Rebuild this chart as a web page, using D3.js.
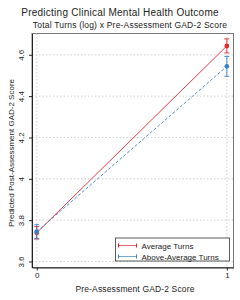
<!DOCTYPE html>
<html>
<head>
<meta charset="utf-8">
<script src="https://cdn.jsdelivr.net/npm/d3@7"></script>
<style>
	body { margin: 0; background: #fff; }
	svg { display: block; font-family: "Liberation Sans", Arial, sans-serif; }
	.grid line { stroke: #d0d0d0; stroke-dasharray: 1.5, 2; }
	.axis path, .axis line { stroke: #222; }
	.axis text { fill: #222; font-size: 8px; }
</style>
</head>
<body>
<div id="chart"></div>
<script>
// values
const xValues = [0, 1];
const seriesNames = ["Average Turns", "Above-Average Turns"];
const averageTurns = [3.739, 4.643];
const averageTurnsErr = [0.03, 0.034];
const aboveAverageTurns = [3.744, 4.544];
const aboveAverageTurnsErr = [0.034, 0.048];
const yTicks = [3.6, 3.8, 4.0, 4.2, 4.4, 4.6];
const xTicks = [0, 1];

const width = 240, height = 300;
const margin = { top: 33.5, right: 6.5, bottom: 32.5, left: 32 };
const colors = ["#e8262c", "#3b80c4"];

const series = [
	{ name: seriesNames[0], values: averageTurns, err: averageTurnsErr, color: colors[0], dash: null },
	{ name: seriesNames[1], values: aboveAverageTurns, err: aboveAverageTurnsErr, color: colors[1], dash: "3,2" },
];

let innerW = width - margin.left - margin.right;
let innerH = height - margin.top - margin.bottom;

let x = d3.scaleLinear().domain([-0.025, 1.035]).range([0, innerW]);
let y = d3.scaleLinear().domain([3.571, 4.703]).range([innerH, 0]);

let svg = d3.select("#chart")
	.append("svg")
		.attr("width", width)
		.attr("height", height);

svg.append("text")
	.attr("x", width / 2)
	.attr("y", 16)
	.attr("text-anchor", "middle")
	.attr("font-size", "10px")
	.attr("letter-spacing", "0.25px")
	.attr("fill", "#222")
	.text("Predicting Clinical Mental Health Outcome");
svg.append("text")
	.attr("x", width / 2 + 10)
	.attr("y", 28)
	.attr("text-anchor", "middle")
	.attr("font-size", "8.5px")
	.attr("letter-spacing", "0.2px")
	.attr("fill", "#222")
	.text("Total Turns (log) x Pre-Assessment GAD-2 Score");

let g = svg.append("g")
	.attr("transform", `translate(${margin.left}, ${margin.top})`);

// frame
g.append("rect")
	.attr("width", innerW)
	.attr("height", innerH)
	.attr("fill", "none")
	.attr("stroke", "#555")
	.attr("stroke-width", 0.8);

// grid
let grid = g.append("g").attr("class", "grid");
grid.selectAll("line.h")
	.data(yTicks)
	.enter()
	.append("line")
		.attr("x1", 0)
		.attr("x2", innerW)
		.attr("y1", d => y(d))
		.attr("y2", d => y(d));
grid.selectAll("line.v")
	.data(xTicks)
	.enter()
	.append("line")
		.attr("y1", 0)
		.attr("y2", innerH)
		.attr("x1", d => x(d))
		.attr("x2", d => x(d));

// axes
let axisY = g.append("g")
	.attr("class", "axis y")
	.call(d3.axisLeft(y).tickValues(yTicks).tickFormat(d3.format("~g")).tickSize(3).tickSizeOuter(0));
axisY.selectAll("text")
	.attr("transform", "rotate(-90)")
	.attr("x", 0)
	.attr("y", -8)
	.attr("dy", 0)
	.attr("text-anchor", "middle");

let axisX = g.append("g")
	.attr("class", "axis x")
	.attr("transform", `translate(0, ${innerH})`)
	.call(d3.axisBottom(x).tickValues(xTicks).tickFormat(d3.format("d")).tickSize(3).tickSizeOuter(0));
axisX.selectAll("text").attr("y", 5);

svg.append("text")
	.attr("transform", `translate(14, 153) rotate(-90)`)
	.attr("text-anchor", "middle")
	.attr("font-size", "8px")
	.attr("fill", "#222")
	.text("Predicted Post-Assessment GAD-2 Score");
svg.append("text")
	.attr("x", 135)
	.attr("y", 292)
	.attr("text-anchor", "middle")
	.attr("font-size", "8.5px")
	.attr("letter-spacing", "0.15px")
	.attr("fill", "#222")
	.text("Pre-Assessment GAD-2 Score");

// series
let line = d3.line()
	.x((d, i) => x(xValues[i]))
	.y(d => y(d));

let groups = g.selectAll("g.series")
	.data(series)
	.enter()
	.append("g")
		.attr("class", "series");

groups.append("path")
	.attr("d", d => line(d.values))
	.attr("fill", "none")
	.attr("stroke", d => d.color)
	.attr("stroke-width", 0.9)
	.attr("stroke-dasharray", d => d.dash);

let capW = 2.5;
groups.each(function (s) {
	let sg = d3.select(this);
	let pts = s.values.map((v, i) => ({ x: xValues[i], v, e: s.err[i] }));
	let eb = sg.selectAll("g.err")
		.data(pts)
		.enter()
		.append("g")
			.attr("class", "err")
			.attr("stroke", s.color)
			.attr("stroke-width", 0.9);
	eb.append("line")
		.attr("x1", d => x(d.x)).attr("x2", d => x(d.x))
		.attr("y1", d => y(d.v - d.e)).attr("y2", d => y(d.v + d.e));
	eb.append("line")
		.attr("x1", d => x(d.x) - capW).attr("x2", d => x(d.x) + capW)
		.attr("y1", d => y(d.v - d.e)).attr("y2", d => y(d.v - d.e));
	eb.append("line")
		.attr("x1", d => x(d.x) - capW).attr("x2", d => x(d.x) + capW)
		.attr("y1", d => y(d.v + d.e)).attr("y2", d => y(d.v + d.e));
	sg.selectAll("circle")
		.data(pts)
		.enter()
		.append("circle")
			.attr("cx", d => x(d.x))
			.attr("cy", d => y(d.v))
			.attr("r", 2.4)
			.attr("fill", s.color);
});

// legend
let legend = svg.append("g")
	.attr("transform", "translate(115.5, 238)");
legend.append("rect")
	.attr("width", 114)
	.attr("height", 23)
	.attr("fill", "#fff")
	.attr("stroke", "#333")
	.attr("stroke-width", 0.8);
let items = legend.selectAll("g.item")
	.data(series)
	.enter()
	.append("g")
		.attr("class", "item")
		.attr("transform", (d, i) => `translate(3, ${7.5 + i * 11})`);
items.append("line")
	.attr("x1", 0).attr("x2", 18)
	.attr("stroke", d => d.color)
	.attr("stroke-width", 1)
	.attr("opacity", 0.7);
items.append("line")
	.attr("x1", 0).attr("x2", 0).attr("y1", -2).attr("y2", 2)
	.attr("stroke", d => d.color);
items.append("line")
	.attr("x1", 18).attr("x2", 18).attr("y1", -2).attr("y2", 2)
	.attr("stroke", d => d.color);
items.append("text")
	.attr("x", 23)
	.attr("y", 3)
	.attr("font-size", "8px")
	.attr("fill", "#222")
	.text(d => d.name);
</script>
</body>
</html>
